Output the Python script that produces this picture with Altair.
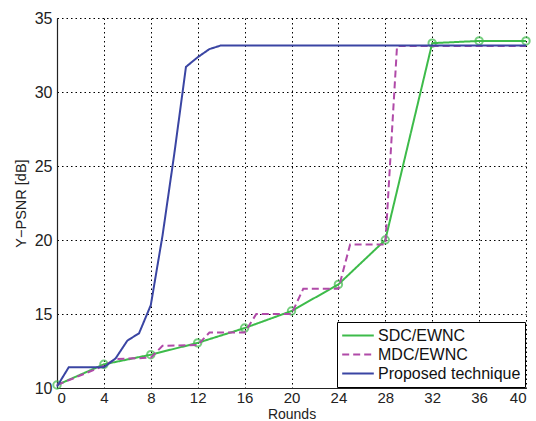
import altair as alt
import pandas as pd

sdc_x = [0, 4, 8, 12, 16, 20, 24, 28, 32, 36, 40]
sdc_y = [10.2, 11.6, 12.25, 13.05, 14.05, 15.2, 17.0, 20.0, 33.3, 33.45, 33.45]

mdc_x = [0, 4, 5, 8, 9, 12, 13, 16, 17, 20, 21, 24, 25, 28, 29, 40]
mdc_y = [10.2, 11.5, 11.95, 12.05, 12.85, 12.9, 13.75, 13.75, 15.0, 15.0, 16.7, 16.7, 19.7, 19.7, 33.1, 33.1]

prop_x = [0, 1, 4, 5, 6, 7, 8, 9, 10, 11, 12, 13, 14, 40]
prop_y = [10.1, 11.4, 11.4, 12.0, 13.2, 13.7, 15.6, 20.3, 25.8, 31.7, 32.35, 32.9, 33.15, 33.15]

names = ["SDC/EWNC", "MDC/EWNC", "Proposed technique"]
colors = ["#3dbb4a", "#b04aa8", "#3a45a3"]
dashes = [[1, 0], [7, 4], [1, 0]]

df_sdc = pd.DataFrame({"x": sdc_x, "y": sdc_y, "series": names[0]})
df_mdc = pd.DataFrame({"x": mdc_x, "y": mdc_y, "series": names[1]})
df_prop = pd.DataFrame({"x": prop_x, "y": prop_y, "series": names[2]})

xs = alt.Scale(domain=[0, 40], nice=False, zero=False)
ys = alt.Scale(domain=[10, 35], nice=False, zero=False)

x_enc = alt.X("x:Q", scale=xs, title="Rounds",
              axis=alt.Axis(values=list(range(0, 41, 4)), grid=True))
y_enc = alt.Y("y:Q", scale=ys, title="Y\u2212PSNR [dB]",
              axis=alt.Axis(values=[10, 15, 20, 25, 30, 35], grid=True))

legend = alt.Legend(
    title=None, orient="none", legendX=280, legendY=304,
    strokeColor="black", fillColor="white", padding=4,
    symbolType="stroke", symbolStrokeWidth=2, symbolSize=1000, clipHeight=19,
    labelFontSize=16, labelFont="Liberation Sans", labelColor="#111",
    rowPadding=0, labelOffset=3, cornerRadius=0,
)
color_enc = alt.Color("series:N", scale=alt.Scale(domain=names, range=colors), legend=legend)
dash_enc = alt.StrokeDash("series:N", scale=alt.Scale(domain=names, range=dashes), legend=legend)

def line(df):
    return alt.Chart(df).mark_line(strokeWidth=2).encode(
        x=x_enc, y=y_enc, color=color_enc, strokeDash=dash_enc)

pts = alt.Chart(df_sdc).mark_point(filled=False, size=55, strokeWidth=2, color=colors[0]).encode(
    x="x:Q", y="y:Q")

chart = alt.layer(line(df_sdc), pts, line(df_mdc), line(df_prop)).properties(
    width=469, height=370,
    autosize=alt.AutoSizeParams(type="none"),
    padding={"left": 57, "top": 18, "right": 10, "bottom": 33},
    background="white",
).configure_view(stroke=None).configure_axis(
    gridColor="black", gridDash=[1.5, 3], gridWidth=1, gridOpacity=1,
    domainColor="#222", domainWidth=1.2, ticks=False,
    labelFont="Liberation Sans", labelFontSize=16, labelColor="#222",
    titleFont="Liberation Sans", titleFontSize=14.5, titleFontWeight="normal", titleColor="#222",
).configure_axisY(labelPadding=5, titlePadding=6).configure_axisX(
    labelPadding=2, labelFontSize=15, titlePadding=2, titleFontSize=14)

chart.save("out.html", embed_options={"renderer": "svg", "actions": False})
